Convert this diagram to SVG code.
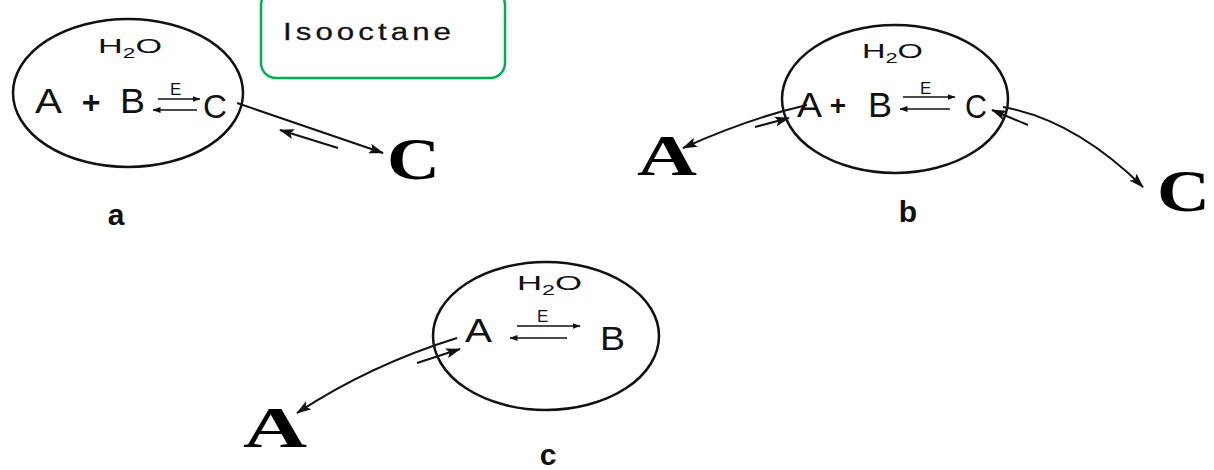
<svg xmlns="http://www.w3.org/2000/svg" width="1214" height="470" viewBox="0 0 1214 470">
<style>
  .drop { fill: none; stroke: #111; stroke-width: 2.5; }
  .sans { font-family: "Liberation Sans", Arial, sans-serif; fill: #111; }
  .big { font-family: "Liberation Serif", "Times New Roman", serif; font-weight: bold; fill: #000; }
  .lbl { font-family: "Liberation Sans", Arial, sans-serif; font-weight: bold; fill: #111; font-size: 30px; text-anchor: middle; }
  .conn { fill: none; stroke: #111; stroke-width: 2; marker-end: url(#ah); }
  .eq { fill: none; stroke: #111; stroke-width: 1.6; marker-end: url(#ahs); }
</style>
<defs>
  <marker id="ah" markerUnits="userSpaceOnUse" markerWidth="15" markerHeight="10" refX="14" refY="5" orient="auto">
    <path d="M0,0 L15,5 L0,10 L3,5 Z" fill="#111"/>
  </marker>
  <marker id="ahs" markerUnits="userSpaceOnUse" markerWidth="8" markerHeight="6" refX="7.5" refY="3" orient="auto">
    <path d="M0,0 L8,3 L0,6 Z" fill="#111"/>
  </marker>
</defs>
<rect width="1214" height="470" fill="#fff"/>

<g id="isooctane">
  <rect x="261" y="-10" width="244" height="88" rx="15" fill="#fff" stroke="#00b050" stroke-width="2.5"/>
  <text class="sans" x="283" y="40" font-size="23" letter-spacing="3" textLength="172" lengthAdjust="spacingAndGlyphs" fill="#1a1a1a" stroke="#1a1a1a" stroke-width="0.3">Isooctane</text>
</g>

<!-- Panel a -->
<g id="droplet-a">
  <ellipse class="drop" cx="128" cy="93" rx="115" ry="74"/>
  <text class="sans" x="98" y="53" font-size="21" textLength="64" lengthAdjust="spacingAndGlyphs">H<tspan font-size="14" dy="5">2</tspan><tspan dy="-5">O</tspan></text>
  <text class="sans" x="35" y="113" font-size="35" textLength="27" lengthAdjust="spacingAndGlyphs">A</text>
  <text class="sans" x="91" y="113" font-size="32" font-weight="bold" text-anchor="middle">+</text>
  <text class="sans" x="120" y="113" font-size="35" textLength="25" lengthAdjust="spacingAndGlyphs">B</text>
  <text class="sans" x="170" y="95" font-size="17">E</text>
  <text class="sans" x="203" y="118" font-size="33" textLength="24" lengthAdjust="spacingAndGlyphs">C</text>
</g>
<g id="product-a">
  <text class="big" x="387" y="179" font-size="59" textLength="53" lengthAdjust="spacingAndGlyphs">C</text>
</g>
<g id="label-a"><text class="lbl" x="116" y="225">a</text></g>

<!-- Panel b -->
<g id="droplet-b">
  <ellipse class="drop" cx="895" cy="99" rx="113" ry="74"/>
  <text class="sans" x="862" y="58" font-size="21" textLength="61" lengthAdjust="spacingAndGlyphs">H<tspan font-size="14" dy="5">2</tspan><tspan dy="-5">O</tspan></text>
  <text class="sans" x="797" y="117" font-size="35" textLength="25" lengthAdjust="spacingAndGlyphs">A</text>
  <text class="sans" x="838" y="115" font-size="28" font-weight="bold" text-anchor="middle">+</text>
  <text class="sans" x="868" y="117" font-size="35" textLength="24" lengthAdjust="spacingAndGlyphs">B</text>
  <text class="sans" x="920" y="94" font-size="17">E</text>
  <text class="sans" x="965" y="118" font-size="33" textLength="22" lengthAdjust="spacingAndGlyphs">C</text>
</g>
<g id="product-b-A">
  <text class="big" x="637" y="175" font-size="57" textLength="60" lengthAdjust="spacingAndGlyphs">A</text>
</g>
<g id="product-b-C">
  <text class="big" x="1157" y="211" font-size="59" textLength="53" lengthAdjust="spacingAndGlyphs">C</text>
</g>
<g id="label-b"><text class="lbl" x="908" y="222">b</text></g>

<!-- Panel c -->
<g id="droplet-c">
  <ellipse class="drop" cx="546" cy="336" rx="113" ry="74"/>
  <text class="sans" x="517" y="290" font-size="21" textLength="65" lengthAdjust="spacingAndGlyphs">H<tspan font-size="14" dy="5">2</tspan><tspan dy="-5">O</tspan></text>
  <text class="sans" x="465" y="342" font-size="34" textLength="27" lengthAdjust="spacingAndGlyphs">A</text>
  <text class="sans" x="537" y="322" font-size="17">E</text>
  <text class="sans" x="600" y="350" font-size="34" textLength="25" lengthAdjust="spacingAndGlyphs">B</text>
</g>
<g id="product-c-A">
  <text class="big" x="243" y="447" font-size="56" textLength="64" lengthAdjust="spacingAndGlyphs">A</text>
</g>
<g id="label-c"><text class="lbl" x="548" y="465">c</text></g>

<g id="connectors">
  <!-- equilibrium arrows -->
  <line class="eq" x1="158" y1="99" x2="200" y2="99"/>
  <line class="eq" x1="197" y1="110" x2="153" y2="110"/>
  <line class="eq" x1="903" y1="97" x2="955" y2="97"/>
  <line class="eq" x1="950" y1="109" x2="900" y2="109"/>
  <line class="eq" x1="517" y1="326" x2="580" y2="326"/>
  <line class="eq" x1="567" y1="338" x2="510" y2="338"/>
  <!-- panel a transport -->
  <line class="conn" x1="237" y1="103" x2="383" y2="153"/>
  <line class="conn" x1="338" y1="148" x2="280" y2="130"/>
  <!-- panel b transport -->
  <path class="conn" d="M807,105 Q750,118 683,148"/>
  <line class="conn" x1="755" y1="127" x2="789" y2="118"/>
  <path class="conn" d="M1003,107 Q1075,120 1143,187"/>
  <line class="conn" x1="1028" y1="125" x2="992" y2="110"/>
  <!-- panel c transport -->
  <path class="conn" d="M457,338 Q370,365 297,413"/>
  <line class="conn" x1="417" y1="363" x2="460" y2="349"/>
</g>
</svg>
